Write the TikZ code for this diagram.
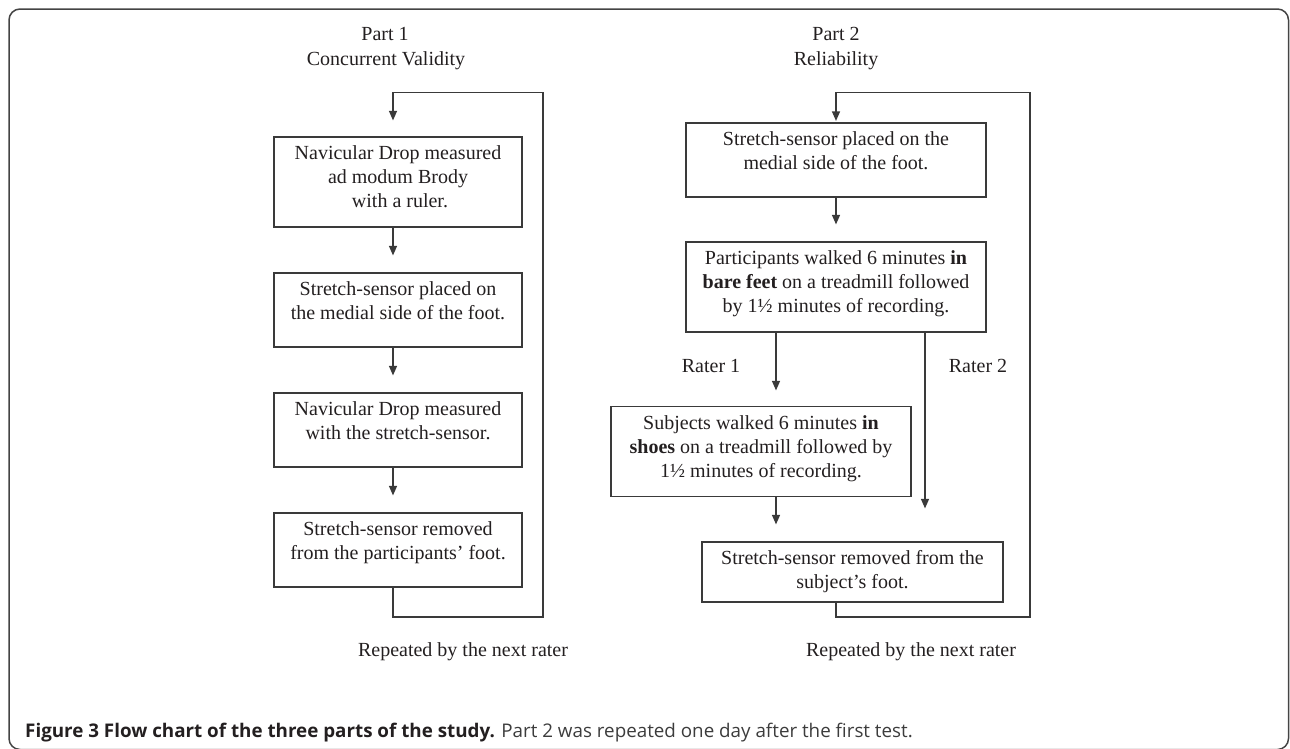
\documentclass[tikz,border=0pt]{standalone}
\usepackage{fontspec}
\setmainfont{Liberation Serif}
\newfontfamily\capfont{Open Sans}
\usetikzlibrary{arrows.meta}
\definecolor{linec}{HTML}{3A3A3A}
\definecolor{framec}{HTML}{444444}
\definecolor{textc}{HTML}{231F20}
\definecolor{capgray}{HTML}{3C3C3C}
\newcommand{\bxt}[3]{\parbox[c][#2][t]{#1}{\centering\rule{0pt}{22.6pt}#3}}
\begin{document}
\begin{tikzpicture}[x=1pt, y=-1pt,
  every node/.style={text=textc, font=\fontsize{20pt}{24pt}\selectfont},
  stepbox/.style={draw=linec, line width=1.2pt, inner sep=0pt},
  lbl/.style={anchor=base, inner sep=0pt},
  flow/.style={draw=linec, line width=1.2pt, -{Triangle[length=9.5pt,width=8pt]}},
  frame/.style={draw=framec, line width=1.5pt, rounded corners=11pt}]
\useasboundingbox (0,0) rectangle (1290,748);
\clip (0,0) rectangle (1290,748);
\draw[frame] (9,9) rectangle (1288.5,749.5);

% titles
\node[lbl] (t1a) at (385,40) {Part 1};
\node[lbl] (t1b) at (386,65) {Concurrent Validity};
\node[lbl] (t2a) at (836,40) {Part 2};
\node[lbl] (t2b) at (836,65) {Reliability};

% Part 1 boxes
\node[stepbox] (p1a) at (398,182) {\bxt{248pt}{90pt}{Navicular Drop measured\\ad modum Brody\\\hspace*{4pt}with a ruler.}};
\node[stepbox] (p1b) at (398,310) {\bxt{248pt}{74pt}{Stretch-sensor placed on\\the medial side of the foot.}};
\node[stepbox] (p1c) at (398,430) {\bxt{248pt}{74pt}{Navicular Drop measured\\with the stretch-sensor.}};
\node[stepbox] (p1d) at (398,550) {\bxt{248pt}{74pt}{Stretch-sensor removed\\from the participants' foot.}};

% Part 2 boxes
\node[stepbox] (p2a) at (836,160) {\bxt{300pt}{74pt}{Stretch-sensor placed on the\\medial side of the foot.}};
\node[stepbox] (p2b) at (836,287) {\bxt{300pt}{90pt}{Participants walked 6 minutes \textbf{in}\\\textbf{bare feet} on a treadmill followed\\by 1½ minutes of recording.}};
\node[stepbox] (p2c) at (761,451.5) {\bxt{300pt}{90pt}{Subjects walked 6 minutes \textbf{in}\\\textbf{shoes} on a treadmill followed by\\1½ minutes of recording.}};
\node[stepbox] (p2d) at (852.5,572) {\bxt{301pt}{60pt}{Stretch-sensor removed from the\\subject's foot.}};

% labels
\node[lbl] (r1) at (711,372) {Rater 1};
\node[lbl] (r2) at (978,372) {Rater 2};
\node[lbl] (rep1) at (463,656) {Repeated by the next rater};
\node[lbl] (rep2) at (911,656) {Repeated by the next rater};

% Part 1 connectors
\coordinate (l1b) at (543,617);
\coordinate (l1t) at (543,92.5);
\draw[flow, shorten >=16pt] ([xshift=-5pt]p1d.south) |- (l1b) -- (l1t) -| ([xshift=-5pt]p1a.north);
\draw[flow, shorten >=17pt] ([xshift=-5pt]p1a.south) -- ([xshift=-5pt]p1b.north);
\draw[flow, shorten >=17pt] ([xshift=-5pt]p1b.south) -- ([xshift=-5pt]p1c.north);
\draw[flow, shorten >=17pt] ([xshift=-5pt]p1c.south) -- ([xshift=-5pt]p1d.north);

% Part 2 connectors
\coordinate (l2b) at (1030,617);
\coordinate (l2t) at (1030,92.5);
\draw[flow, shorten >=1.5pt] ([xshift=-16.5pt]p2d.south) |- (l2b) -- (l2t) -| (p2a.north);
\draw[flow, shorten >=17pt] (p2a.south) -- (p2b.north);
\draw[flow, shorten >=15.5pt] ([xshift=-60pt]p2b.south) -- ([xshift=-60pt]p2b.south |- p2c.north);
\draw[flow, shorten >=33pt] ([xshift=89pt]p2b.south) -- ([xshift=89pt]p2b.south |- p2d.north);
\draw[flow, shorten >=17pt] ([xshift=15pt]p2c.south) -- ([xshift=15pt]p2c.south |- p2d.north);

% caption
\node[anchor=base west, inner sep=0pt, font=\capfont\fontsize{18.8pt}{22pt}\selectfont] (cap) at (25,737)
  {\textbf{Figure 3 Flow chart of the three parts of the study.} \textcolor{capgray}{Part 2 was repeated one day after the first test.}};
\end{tikzpicture}
\end{document}
